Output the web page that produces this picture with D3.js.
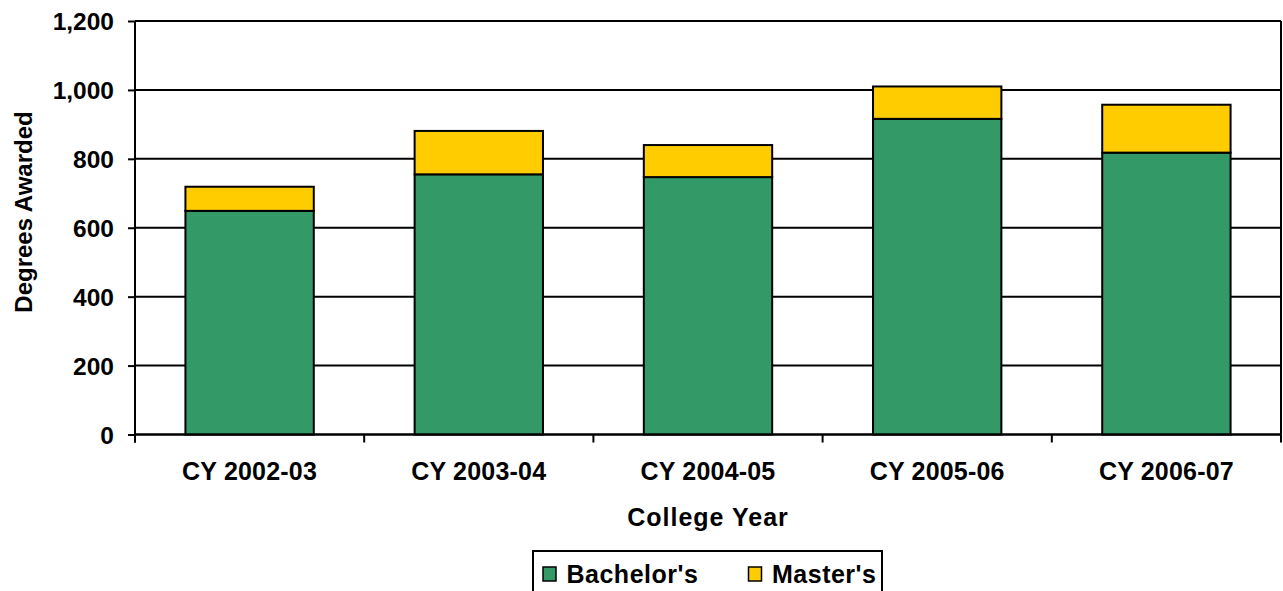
<!DOCTYPE html>
<html>
<head>
<meta charset="utf-8">
<script src="https://cdn.jsdelivr.net/npm/d3@7"></script>
<style>
  html, body { margin: 0; padding: 0; background: #fff; }
  svg { display: block; }
  text { font-family: Arial, "Liberation Sans", sans-serif; font-weight: bold; fill: #000; }
</style>
</head>
<body>
<svg id="chart" width="1283" height="591"></svg>
<script>
const categories = ["CY 2002-03", "CY 2003-04", "CY 2004-05", "CY 2005-06", "CY 2006-07"];
const bachelors = [649, 755, 747, 916, 818];
const masters = [70, 126, 93, 94, 139];
const seriesNames = ["Bachelor's", "Master's"];
const seriesColors = ["#339966", "#FFCC00"];
const yTicks = [0, 200, 400, 600, 800, 1000, 1200];
const xTitle = "College Year";
const yTitle = "Degrees Awarded";

const svg = d3.select("#chart");
const pL = 135, pR = 1281, pT = 21, pB = 434.5;

const x = d3.scaleBand().domain(categories).range([pL, pR]).paddingInner(0.44).paddingOuter(0.22);
const y = d3.scaleLinear().domain([0, 1200]).range([pB, pT]);

// gridlines + y axis
const yAxis = d3.axisLeft(y).tickValues(yTicks).tickFormat(d3.format(",")).tickSize(7).tickPadding(14);
const gy = svg.append("g").attr("transform", `translate(${pL},0)`).call(yAxis);
gy.select(".domain").remove();
gy.selectAll(".tick line").attr("stroke", "#000").attr("stroke-width", 2);
gy.selectAll(".tick text").style("font-size", "24.5px").attr("dy", "0.36em");

svg.append("g").selectAll("line").data(yTicks).join("line")
  .attr("x1", pL).attr("x2", pR)
  .attr("y1", d => y(d)).attr("y2", d => y(d))
  .attr("stroke", "#000").attr("stroke-width", 2);

// right border
svg.append("line").attr("x1", pR).attr("x2", pR).attr("y1", pT).attr("y2", pB)
  .attr("stroke", "#000").attr("stroke-width", 2);

// stacked bars
const stackData = categories.map((c, i) => ({ cat: c, b: bachelors[i], m: masters[i] }));
const stack = d3.stack().keys(["b", "m"])(stackData);
svg.append("g").selectAll("g").data(stack).join("g")
  .attr("fill", (d, i) => seriesColors[i])
  .selectAll("rect").data(d => d).join("rect")
  .attr("x", d => x(d.data.cat))
  .attr("width", x.bandwidth())
  .attr("y", d => y(d[1]))
  .attr("height", d => y(d[0]) - y(d[1]))
  .attr("stroke", "#000").attr("stroke-width", 2);

// x axis line and ticks at category boundaries
svg.append("line").attr("x1", pL).attr("x2", pR).attr("y1", pB).attr("y2", pB)
  .attr("stroke", "#000").attr("stroke-width", 2);
svg.append("line").attr("x1", pL).attr("x2", pL).attr("y1", pT).attr("y2", pB + 8)
  .attr("stroke", "#000").attr("stroke-width", 2);
const boundaries = d3.range(categories.length + 1).map(i => pL + i * x.step());
svg.append("g").selectAll("line").data(boundaries).join("line")
  .attr("x1", d => d).attr("x2", d => d)
  .attr("y1", pB).attr("y2", pB + 8)
  .attr("stroke", "#000").attr("stroke-width", 2);

svg.append("g").selectAll("text").data(categories).join("text")
  .attr("x", d => x(d) + x.bandwidth() / 2)
  .attr("y", 480)
  .attr("text-anchor", "middle")
  .style("font-size", "25px")
  .style("letter-spacing", "0.2px")
  .text(d => d);

// axis titles
svg.append("text").attr("x", (pL + pR) / 2).attr("y", 526)
  .attr("text-anchor", "middle").style("font-size", "25px").style("letter-spacing", "1px").text(xTitle);
svg.append("text").attr("transform", "translate(31.5,212) rotate(-90)")
  .attr("text-anchor", "middle").style("font-size", "24px").text(yTitle);

// legend
svg.append("rect").attr("x", 533).attr("y", 551).attr("width", 349).attr("height", 50)
  .attr("fill", "#fff").attr("stroke", "#000").attr("stroke-width", 2);
const legendX = [543, 748.5];
const lg = svg.append("g").selectAll("g").data(seriesNames).join("g")
  .attr("transform", (d, i) => `translate(${legendX[i]},567)`);
lg.append("rect").attr("width", 13).attr("height", 14)
  .attr("fill", (d, i) => seriesColors[i]).attr("stroke", "#000").attr("stroke-width", 1.5);
lg.append("text").attr("x", 23.5).attr("y", 15.5).style("font-size", "25px").style("letter-spacing", "0.5px").text(d => d);
</script>
</body>
</html>
